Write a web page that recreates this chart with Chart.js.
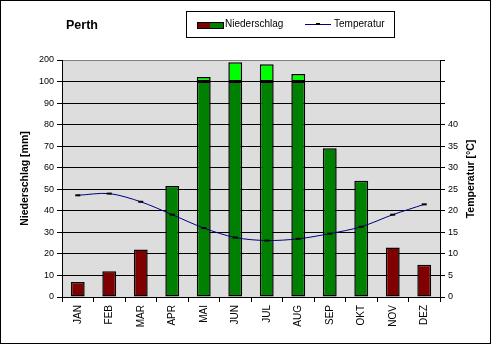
<!DOCTYPE html>
<html>
<head>
<meta charset="utf-8">
<script src="https://cdn.jsdelivr.net/npm/chart.js@4"></script>
<style>
  html, body { margin: 0; padding: 0; background: #fff; }
  #wrap { position: relative; width: 491px; height: 344px; font-family: "Liberation Sans", Arial, sans-serif; }
  #c { position: absolute; left: 0; top: 0; }
  #frame { position: absolute; left: 0; top: 0; width: 491px; height: 344px; box-sizing: border-box; border: 1px solid #000; pointer-events: none; }
  #title { position: absolute; left: 66px; top: 18px; font-weight: bold; font-size: 12.5px; color: #000; }
  #legend { position: absolute; left: 186px; top: 11px; width: 209px; height: 27px; box-sizing: border-box; border: 1px solid #000; background: #fff; font-size: 10px; color: #000; }
  .sw1 { position: absolute; left: 10px; top: 10px; width: 25px; height: 5px; border: 1px solid #000; background: linear-gradient(to right, #800000 50%, #008000 50%); }
  .t1 { position: absolute; left: 38px; top: 6px; }
  .sw2 { position: absolute; left: 118px; top: 12px; width: 26px; height: 1px; background: #000080; }
  .sw2 i { position: absolute; left: 11px; top: -1px; width: 4px; height: 2px; background: #000; }
  .t2 { position: absolute; left: 147px; top: 6px; }
  #ytitle2 { position: absolute; left: 470px; top: 178.5px; transform: translate(-50%, -50%) rotate(-90deg); font-weight: bold; font-size: 10.5px; white-space: nowrap; color: #000; }
</style>
</head>
<body>
<div id="wrap">
  <canvas id="c" width="491" height="344"></canvas>
  <div id="title">Perth</div>
  <div id="legend">
    <div class="sw1"></div><div class="t1">Niederschlag</div>
    <div class="sw2"><i></i></div><div class="t2">Temperatur</div>
  </div>
  <div id="ytitle2">Temperatur [°C]</div>
  <div id="frame"></div>
</div>
<script>
// ---- data ----
const months = ["JAN","FEB","MAR","APR","MAI","JUN","JUL","AUG","SEP","OKT","NOV","DEZ"];
const precipitation = [7, 12, 22, 51.5, 121, 189, 180, 135, 69, 54, 23, 15];   // mm
const temperature = [23.6, 24.0, 22.1, 19.1, 16.0, 13.8, 13.1, 13.5, 14.7, 16.3, 19.1, 21.5]; // °C
const precipTicks = [0, 10, 20, 30, 40, 50, 60, 70, 80, 90, 100, 200];
const tempTicks = [0, 5, 10, 15, 20, 25, 30, 35, 40];

// Walter-Lieth scale: above 100 mm the scale is reduced 1:10
const lowerPart = precipitation.map(v => Math.min(v, 100));
const upperPart = precipitation.map(v => v > 100 ? (v - 100) / 10 : null);
const barColors = precipitation.map((v, i) => v < 2 * temperature[i] ? '#800000' : '#008000');

const font = { family: '"Liberation Sans", Arial, sans-serif', size: 9 };

const plotBg = {
  id: 'plotBg',
  beforeDraw(chart) {
    const { ctx, chartArea: a } = chart;
    ctx.save();
    ctx.fillStyle = '#DDDDDD';
    ctx.fillRect(a.left, a.top, a.right - a.left, a.bottom - a.top);
    ctx.restore();
  }
};

new Chart(document.getElementById('c'), {
  type: 'bar',
  data: {
    labels: months,
    datasets: [
      {
        type: 'line',
        label: 'Temperatur',
        data: temperature,
        yAxisID: 'y1',
        borderColor: '#000080',
        borderWidth: 1,
        tension: 0.3,
        pointStyle: 'line',
        pointRadius: 2.5,
        pointBorderWidth: 2,
        pointBorderColor: '#000',
        pointBackgroundColor: '#000',
        fill: false,
        order: 0
      },
      {
        label: 'Niederschlag',
        data: lowerPart,
        yAxisID: 'y',
        backgroundColor: barColors,
        borderColor: '#000',
        borderWidth: 1.5,
        borderSkipped: false,
        barPercentage: 0.44,
        categoryPercentage: 1.0,
        order: 1
      },
      {
        label: 'Niederschlag >100',
        data: upperPart,
        yAxisID: 'y',
        backgroundColor: '#00FF00',
        borderColor: '#000',
        borderWidth: 1.5,
        borderSkipped: false,
        barPercentage: 0.44,
        categoryPercentage: 1.0,
        order: 1
      }
    ]
  },
  options: {
    responsive: false,
    animation: false,
    events: [],
    layout: { padding: { left: 10, right: 5, top: 60, bottom: 7 } },
    plugins: { legend: { display: false }, tooltip: { enabled: false }, title: { display: false } },
    scales: {
      x: {
        stacked: true,
        offset: true,
        grid: { offset: true, drawOnChartArea: false, drawTicks: true, tickLength: 5, color: '#000', tickColor: '#000' },
        border: { color: '#000', width: 1 },
        ticks: { color: '#000', font: { ...font, size: 10 }, minRotation: 90, maxRotation: 90, padding: 3, autoSkip: false },
        afterFit(s) { s.height = 40; }
      },
      y: {
        position: 'left',
        stacked: true,
        min: 0,
        max: 110,
        afterBuildTicks(s) { s.ticks = precipTicks.map(v => ({ value: v <= 100 ? v : 100 + (v - 100) / 10 })); },
        ticks: {
          color: '#000', font: font, padding: 3,
          callback(value) { return value <= 100 ? String(value) : String(precipTicks[precipTicks.length - 1]); }
        },
        grid: {
          color: ctx => (ctx.tick && ctx.tick.value === 110) ? '#808080' : '#000',
          tickColor: '#000', tickLength: 5, lineWidth: 1
        },
        border: { color: '#000', width: 1 },
        title: { display: true, text: 'Niederschlag [mm]', color: '#000', font: { family: font.family, size: 10.5, weight: 'bold' }, padding: { top: 9, bottom: 0 } },
        afterFit(s) { s.width = 52; }
      },
      y1: {
        position: 'right',
        min: 0,
        max: 55,
        afterBuildTicks(s) {
          const vals = [];
          for (let v = 0; v <= 55; v += 5) vals.push({ value: v });
          s.ticks = vals;
        },
        ticks: {
          color: '#000', font: font, padding: 3,
          callback(value) { return tempTicks.includes(value) ? String(value) : ''; }
        },
        grid: { drawOnChartArea: false, tickColor: '#000', tickLength: 5 },
        border: { color: '#000', width: 1 },
        afterFit(s) { s.width = 46; }
      }
    }
  },
  plugins: [plotBg]
});
</script>
</body>
</html>
